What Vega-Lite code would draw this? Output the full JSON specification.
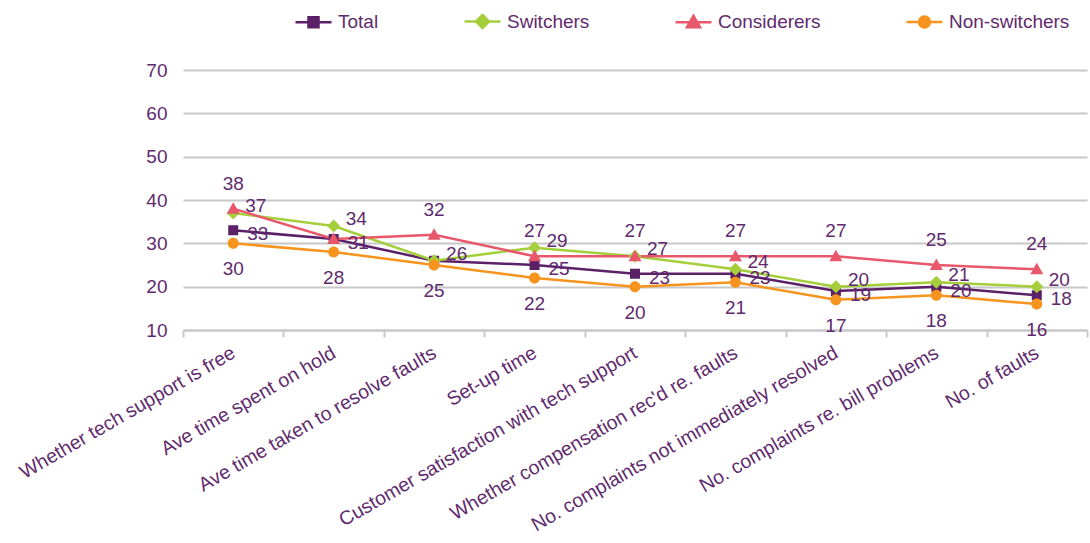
{
  "$schema": "https://vega.github.io/schema/vega-lite/v6.json",
  "width": 904,
  "height": 260,
  "autosize": {"type": "none"},
  "padding": {"left": 183, "top": 70, "right": 3, "bottom": 213},
  "background": "white",
  "config": {"view": {"stroke": null}, "font": "Liberation Sans"},
  "data": {
    "values": [
      {"cat": "Whether tech support is free", "series": "Total", "value": 33},
      {"cat": "Ave time spent on hold", "series": "Total", "value": 31},
      {"cat": "Ave time taken to resolve faults", "series": "Total", "value": 26},
      {"cat": "Set-up time", "series": "Total", "value": 25},
      {"cat": "Customer satisfaction with tech support", "series": "Total", "value": 23},
      {"cat": "Whether compensation rec'd re. faults", "series": "Total", "value": 23},
      {"cat": "No. complaints not immediately resolved", "series": "Total", "value": 19},
      {"cat": "No. complaints re. bill problems", "series": "Total", "value": 20},
      {"cat": "No. of faults", "series": "Total", "value": 18},
      {"cat": "Whether tech support is free", "series": "Switchers", "value": 37},
      {"cat": "Ave time spent on hold", "series": "Switchers", "value": 34},
      {"cat": "Ave time taken to resolve faults", "series": "Switchers", "value": 26},
      {"cat": "Set-up time", "series": "Switchers", "value": 29},
      {"cat": "Customer satisfaction with tech support", "series": "Switchers", "value": 27},
      {"cat": "Whether compensation rec'd re. faults", "series": "Switchers", "value": 24},
      {"cat": "No. complaints not immediately resolved", "series": "Switchers", "value": 20},
      {"cat": "No. complaints re. bill problems", "series": "Switchers", "value": 21},
      {"cat": "No. of faults", "series": "Switchers", "value": 20},
      {"cat": "Whether tech support is free", "series": "Considerers", "value": 38},
      {"cat": "Ave time spent on hold", "series": "Considerers", "value": 31},
      {"cat": "Ave time taken to resolve faults", "series": "Considerers", "value": 32},
      {"cat": "Set-up time", "series": "Considerers", "value": 27},
      {"cat": "Customer satisfaction with tech support", "series": "Considerers", "value": 27},
      {"cat": "Whether compensation rec'd re. faults", "series": "Considerers", "value": 27},
      {"cat": "No. complaints not immediately resolved", "series": "Considerers", "value": 27},
      {"cat": "No. complaints re. bill problems", "series": "Considerers", "value": 25},
      {"cat": "No. of faults", "series": "Considerers", "value": 24},
      {"cat": "Whether tech support is free", "series": "Non-switchers", "value": 30},
      {"cat": "Ave time spent on hold", "series": "Non-switchers", "value": 28},
      {"cat": "Ave time taken to resolve faults", "series": "Non-switchers", "value": 25},
      {"cat": "Set-up time", "series": "Non-switchers", "value": 22},
      {"cat": "Customer satisfaction with tech support", "series": "Non-switchers", "value": 20},
      {"cat": "Whether compensation rec'd re. faults", "series": "Non-switchers", "value": 21},
      {"cat": "No. complaints not immediately resolved", "series": "Non-switchers", "value": 17},
      {"cat": "No. complaints re. bill problems", "series": "Non-switchers", "value": 18},
      {"cat": "No. of faults", "series": "Non-switchers", "value": 16}
    ]
  },
  "encoding": {
    "x": {
      "field": "cat",
      "type": "nominal",
      "sort": null,
      "scale": {"type": "band", "paddingInner": 0, "paddingOuter": 0},
      "axis": {
        "title": null,
        "labelAngle": -30,
        "labelAlign": "right",
        "labelBaseline": "middle",
        "labelFontSize": 19.5,
        "labelColor": "#5f2a6e",
        "labelLimit": 600,
        "labelOverlap": false,
        "domainColor": "#c8c8c8",
        "domainWidth": 2,
        "tickColor": "#c8c8c8",
        "tickWidth": 2,
        "tickSize": 7,
        "tickBand": "extent",
        "grid": false,
        "labelPadding": 14
      }
    },
    "y": {
      "field": "value",
      "type": "quantitative",
      "scale": {"domain": [10, 70], "nice": false, "zero": false},
      "axis": {
        "title": null,
        "values": [10, 20, 30, 40, 50, 60, 70],
        "grid": true,
        "gridColor": "#c8c8c8",
        "gridWidth": 2,
        "domain": false,
        "ticks": false,
        "labelFontSize": 19,
        "labelColor": "#5f2a6e",
        "labelPadding": 16
      }
    },
    "color": {
      "field": "series",
      "type": "nominal",
      "scale": {
        "domain": ["Total", "Switchers", "Considerers", "Non-switchers"],
        "range": ["#5b2068", "#a5cf3a", "#e8576a", "#f7941e"]
      },
      "legend": {
        "title": null,
        "orient": "none",
        "legendX": 119,
        "legendY": -60,
        "direction": "horizontal",
        "columnPadding": 80,
        "labelFontSize": 19,
        "labelColor": "#5f2a6e",
        "labelOffset": 13,
        "symbolSize": 400,
        "symbolStrokeWidth": 2.5,
        "symbolOpacity": 1,
        "encode": {
          "symbols": {
            "update": {
              "stroke": {"scale": "color", "field": "value"},
              "strokeWidth": {"value": 2.5}
            }
          }
        }
      }
    }
  },
  "layer": [
    {"mark": {"type": "line", "strokeWidth": 2.5}},
    {
      "mark": {"type": "point", "filled": true, "opacity": 1, "size": 400},
      "encoding": {
        "shape": {
          "field": "series",
          "type": "nominal",
          "scale": {
            "domain": ["Total", "Switchers", "Considerers", "Non-switchers"],
            "range": [
              "M-1.8,0H1.8M-0.5,-0.5H0.5V0.5H-0.5Z",
              "M-1.8,0H1.8M0,-0.65L0.65,0L0,0.65L-0.65,0Z",
              "M-1.8,0H1.8M0,-0.65L0.65,0.5H-0.65Z",
              "M-1.8,0H1.8M0.55,0A0.55,0.55,0,1,1,-0.55,0A0.55,0.55,0,1,1,0.55,0Z"
            ]
          },
          "legend": {
            "title": null,
            "orient": "none",
            "legendX": 119,
            "legendY": -60,
            "direction": "horizontal",
            "columnPadding": 80,
            "labelFontSize": 19,
            "labelColor": "#5f2a6e",
            "labelOffset": 13,
            "symbolSize": 400,
            "symbolStrokeWidth": 2.5,
            "symbolOpacity": 1,
            "encode": {
              "symbols": {
                "update": {
                  "stroke": {"scale": "color", "field": "value"},
                  "strokeWidth": {"value": 2.5}
                }
              }
            }
          }
        }
      }
    },
    {
      "transform": [{"filter": "datum.series == 'Total' && datum.cat != 'Ave time taken to resolve faults'"}],
      "mark": {"type": "text", "align": "left", "baseline": "middle", "dx": 14, "dy": 4, "fontSize": 19},
      "encoding": {"text": {"field": "value"}, "color": {"value": "#5f2a6e"}}
    },
    {
      "transform": [{"filter": "datum.series == 'Switchers'"}],
      "mark": {"type": "text", "align": "left", "baseline": "middle", "dx": 12, "dy": -7, "fontSize": 19},
      "encoding": {"text": {"field": "value"}, "color": {"value": "#5f2a6e"}}
    },
    {
      "transform": [{"filter": "datum.series == 'Considerers' && datum.cat != 'Ave time spent on hold'"}],
      "mark": {"type": "text", "align": "center", "baseline": "middle", "dy": -25, "fontSize": 19},
      "encoding": {"text": {"field": "value"}, "color": {"value": "#5f2a6e"}}
    },
    {
      "transform": [{"filter": "datum.series == 'Non-switchers'"}],
      "mark": {"type": "text", "align": "center", "baseline": "middle", "dy": 26, "fontSize": 19},
      "encoding": {"text": {"field": "value"}, "color": {"value": "#5f2a6e"}}
    }
  ]
}
